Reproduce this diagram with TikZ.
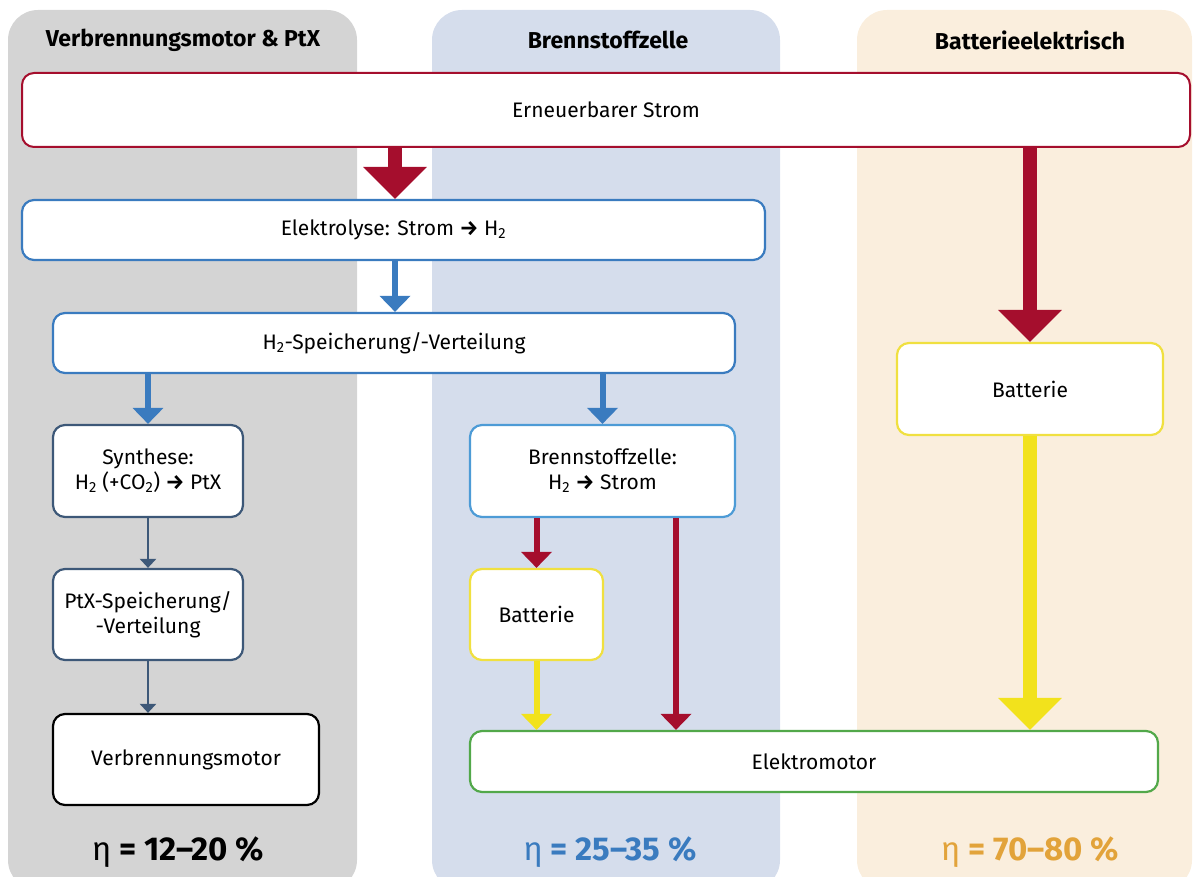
\documentclass[tikz,border=0pt]{standalone}
\usepackage{fontspec}
\setmainfont{Fira Sans}
\usetikzlibrary{arrows.meta}
\definecolor{cred}{RGB}{165,14,45}
\definecolor{cblue}{RGB}{58,123,191}
\definecolor{clblue}{RGB}{77,155,214}
\definecolor{cslate}{RGB}{61,88,120}
\definecolor{cyel}{RGB}{242,226,28}
\definecolor{cybox}{RGB}{240,224,64}
\definecolor{cgreen}{RGB}{82,168,74}
\definecolor{bggray}{RGB}{212,212,212}
\definecolor{bgblue}{RGB}{213,221,236}
\definecolor{bgpeach}{RGB}{250,238,221}
\definecolor{corange}{RGB}{226,163,58}
\tikzset{
  box/.style={draw, fill=white, rounded corners=12pt, line width=2.2pt, align=center, font=\fontsize{21}{25}\selectfont, inner sep=0pt},
  head/.style={font=\bfseries\fontsize{23}{27}\selectfont},
  eff/.style={font=\bfseries\fontsize{33}{38}\selectfont},
  bigarrow/.style={line width=14pt, -{Triangle[width=62pt,length=32pt]}},
  midarrow/.style={line width=6pt, -{Triangle[width=30pt,length=16pt]}},
  thinarrow/.style={line width=2.5pt, -{Triangle[width=16pt,length=9pt]}},
}
\begin{document}
\begin{tikzpicture}[x=1pt,y=-1pt]
\useasboundingbox (0,0) rectangle (1197,877);
% column backgrounds
\fill[bggray, rounded corners=30pt] (8,10) rectangle (357,890);
\fill[bgblue, rounded corners=30pt] (432,10) rectangle (780,890);
\fill[bgpeach, rounded corners=30pt] (857,10) rectangle (1192,890);
\fill[white] (0,877) rectangle (1197,900);
\node[head] (h1) at (183,40) {Verbrennungsmotor \& PtX};
\node[head] (h2) at (608,40) {Brennstoffzelle};
\node[head] (h3) at (1030,40) {Batterieelektrisch};
% boxes
\node[box, draw=cred, line width=2pt, minimum width=1168pt, minimum height=74pt] (ern) at (606,110) {Erneuerbarer Strom};
\node[box, draw=cblue, minimum width=743pt, minimum height=60pt] (ely) at (393.5,230) {Elektrolyse: Strom \textbf{→} H\textsubscript{2}};
\node[box, draw=cblue, minimum width=682pt, minimum height=60pt] (h2sp) at (394,343) {H\textsubscript{2}-Speicherung/-Verteilung};
\node[box, draw=cslate, minimum width=190pt, minimum height=92pt] (syn) at (148,471) {Synthese:\\H\textsubscript{2} (+CO\textsubscript{2}) \textbf{→} PtX};
\node[box, draw=cslate, minimum width=190pt, minimum height=91pt] (ptx) at (148,614.5) {PtX-Speicherung/\\-Verteilung};
\node[box, draw=black, minimum width=266pt, minimum height=91pt] (vm) at (186,759.5) {Verbrennungsmotor};
\node[box, draw=clblue, minimum width=265pt, minimum height=92pt] (bz) at (602.5,471) {Brennstoffzelle:\\H\textsubscript{2} \textbf{→} Strom};
\node[box, draw=cybox, minimum width=133pt, minimum height=91pt] (bat1) at (536.5,614.5) {Batterie};
\node[box, draw=cgreen, minimum width=688pt, minimum height=61pt] (em) at (814,761.5) {Elektromotor};
\node[box, draw=cybox, minimum width=266pt, minimum height=92pt] (bat2) at (1030,389) {Batterie};
% arrows
\draw[bigarrow, cred] (ern.south -| 395,0) -- (ely.north -| 395,0);
\draw[bigarrow, cred] (ern.south -| bat2.north) -- (bat2.north);
\draw[midarrow, cblue] (ely.south -| 395,0) -- (h2sp.north -| 395,0);
\draw[midarrow, cblue] (h2sp.south -| syn.north) -- (syn.north);
\draw[midarrow, cblue] (h2sp.south -| bz.north) -- (bz.north);
\draw[thinarrow, cslate] (syn.south) -- (ptx.north);
\draw[thinarrow, cslate] (ptx.south) -- (ptx.south |- vm.north);
\draw[midarrow, cred] (bz.south -| bat1.north) -- (bat1.north);
\draw[midarrow, cred] (bz.south -| 676,0) -- (em.north -| 676,0);
\draw[midarrow, cyel] (bat1.south) -- (bat1.south |- em.north);
\draw[bigarrow, cyel] (bat2.south) -- (bat2.south |- em.north);
% efficiencies
\node[eff] (e1) at (178,852) {\mdseries η\bfseries{} = 12–20 \%};
\node[eff, text=cblue] (e2) at (610,852) {\mdseries η\bfseries{} = 25–35 \%};
\node[eff, text=corange] (e3) at (1030,852) {\mdseries η\bfseries{} = 70–80 \%};
\end{tikzpicture}
\end{document}
